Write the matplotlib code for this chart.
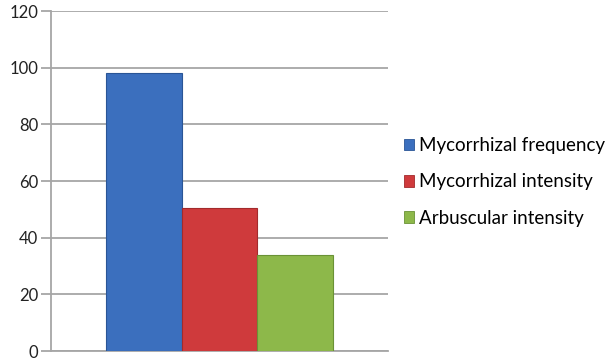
import matplotlib
matplotlib.use("Agg")
import matplotlib.pyplot as plt
from matplotlib.patches import Patch

series = ["Mycorrhizal frequency", "Mycorrhizal intensity", "Arbuscular intensity"]
values = [98, 50.5, 34]
colors = ["#3B6FBE", "#CF3A3C", "#8DB84A"]
edges = ["#2A5596", "#A32A2C", "#6A9236"]
yticks = [0, 20, 40, 60, 80, 100, 120]

plt.rcParams['font.family'] = ['Lato', 'DejaVu Sans']

fig = plt.figure(figsize=(6.09, 3.6), dpi=100)
ax = fig.add_axes([51/609, 1-351/360, 337/609, 340/360])

w = 0.2255
offsets = [-w, 0, w]
for s, v, c, e, o in zip(series, values, colors, edges, offsets):
    ax.bar(o, v, width=w, color=c, edgecolor=e, linewidth=0.8, label=s, zorder=3)

ax.set_xlim(-0.5, 0.5)
ax.set_ylim(0, 120)
ax.set_yticks(yticks)
ax.set_yticklabels([str(t) for t in yticks], fontsize=12, color="#222222")
ax.set_xticks([])
ax.grid(axis='y', color="#A6A6A6", linewidth=1.3, zorder=0)
for sp in ["top", "right"]:
    ax.spines[sp].set_visible(False)
for sp in ["left", "bottom"]:
    ax.spines[sp].set_color("#A6A6A6")
    ax.spines[sp].set_linewidth(1.3)
ax.tick_params(axis='y', length=7, width=1.3, color="#A6A6A6", pad=2)
ax.set_axisbelow(True)

handles = [Patch(facecolor=c, edgecolor=e, linewidth=0.6) for c, e in zip(colors, edges)]
fig.legend(handles, series, loc='center left', bbox_to_anchor=(404/609, 1-182/360),
           frameon=False, fontsize=13.5, handlelength=0.55, handleheight=0.55,
           handletextpad=0.25, labelspacing=1.02, borderaxespad=0, borderpad=0)

fig.savefig("out.png", dpi=100)
